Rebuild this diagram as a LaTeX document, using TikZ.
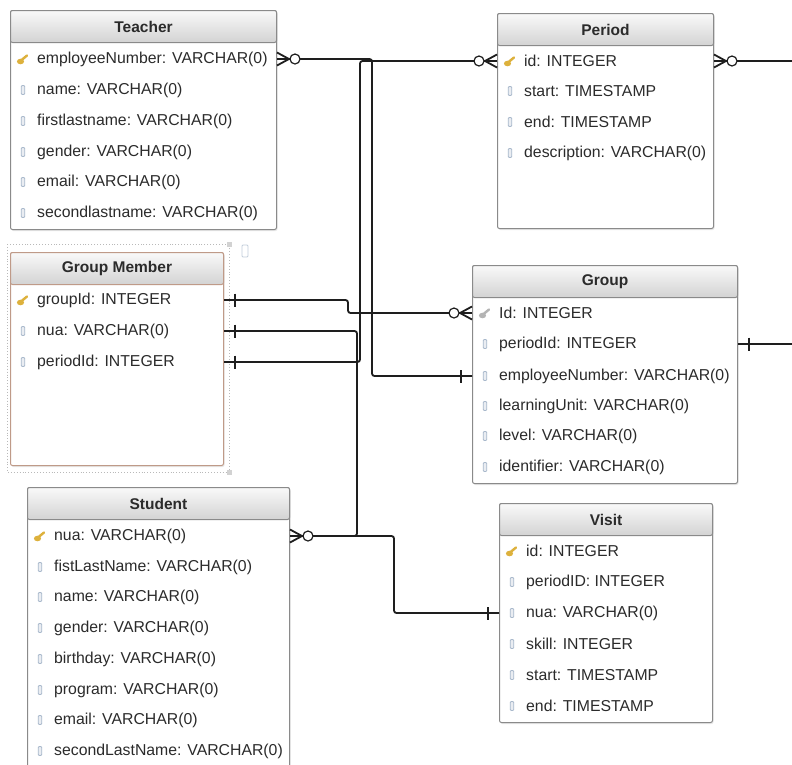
\documentclass[tikz,border=0pt]{standalone}
\usepackage{fontspec}
\setmainfont{Liberation Sans}
\usetikzlibrary{shadows}
\definecolor{txt}{HTML}{2B2B2B}
\definecolor{bord}{HTML}{8A8A8A}
\definecolor{hdtop}{HTML}{F9F9F9}
\definecolor{hdbot}{HTML}{D3D3D3}
\definecolor{selb}{HTML}{BF9A88}
\definecolor{keyg}{HTML}{DDB13C}
\definecolor{gkeyg}{HTML}{B4B4B4}
\definecolor{colic}{HTML}{A9B9CC}
\definecolor{connc}{HTML}{1E1E1E}
\tikzset{
  tbox/.style={draw=bord, line width=1pt, fill=white, rounded corners=2pt, anchor=north west, inner sep=0pt,
    drop shadow={opacity=0.18, shadow xshift=1pt, shadow yshift=-1.5pt}},
  thead/.style={draw=bord, line width=1pt, top color=hdtop, bottom color=hdbot, rounded corners=2pt,
    anchor=north west, inner sep=0pt, minimum height=32pt, font=\fontsize{15.5}{18}\selectfont\bfseries, text=txt},
  fld/.style={anchor=west, inner sep=0pt, font=\fontsize{15.8}{18}\selectfont, text=txt},
  conn/.style={draw=connc, line width=1.8pt},
  route/.style={conn, rounded corners=2.5pt},
  crowO/.pic={\draw[conn] (0pt,6.5pt) -- (12pt,0pt) -- (0pt,-6.5pt); \draw[conn] (0pt,0pt) -- (13pt,0pt);
    \draw[draw=connc, line width=1.2pt, fill=white] (18pt,0pt) circle (5pt);},
  onebar/.pic={\draw[conn] (11pt,6.5pt) -- (11pt,-6.5pt);},
  keyic/.pic={\fill[keyg] (-2.5pt,-2.5pt) ellipse (3.6pt and 2.8pt); \draw[keyg, line width=2.4pt, line cap=round] (-2pt,-1.5pt) -- (4pt,3.5pt);},
  gkeyic/.pic={\fill[gkeyg] (-2.5pt,-2.5pt) ellipse (3.6pt and 2.8pt); \draw[gkeyg, line width=2.4pt, line cap=round] (-2pt,-1.5pt) -- (4pt,3.5pt);},
  colicon/.pic={\draw[colic, fill=colic!25, line width=0.8pt, rounded corners=1pt] (-1.8pt,-4.5pt) rectangle (1.8pt,4.5pt);},
}
% name, x, y, w, h, title, border colour
\newcommand\ertab[7]{%
  \node[tbox, draw=#7, minimum width=#4pt, minimum height=#5pt] (#1) at (#2,-#3) {};
  \node[thead, draw=#7, minimum width=#4pt] (#1h) at (#2,-#3) {#6};
}
% name, table x, y, icon, text
\newcommand\fieldrow[5]{%
  \pic at (#2+13,-#3) {#4};
  \node[fld] (#1) at (#2+27,-#3) {#5};
}
\begin{document}
\begin{tikzpicture}[x=1pt, y=1pt]
\useasboundingbox[fill=white] (0,0) rectangle (792,-764);

% selection frame round Group Member
\draw[gray!55, dotted, line width=0.9pt] (7,-244) rectangle (229,-472);
\fill[gray!35] (226.5,-241.5) rectangle (231.5,-246.5);
\fill[gray!35] (226.5,-469.5) rectangle (231.5,-474.5);
\draw[colic!70, line width=0.8pt, rounded corners=1pt] (242,-245) rectangle (248,-257);

% Teacher
\ertab{teacher}{10}{10}{266}{219}{Teacher}{bord}
\fieldrow{tEmp}{10}{59}{keyic}{employeeNumber: VARCHAR(0)}
\fieldrow{tName}{10}{90}{colicon}{name: VARCHAR(0)}
\fieldrow{tFirst}{10}{121}{colicon}{firstlastname: VARCHAR(0)}
\fieldrow{tGender}{10}{152}{colicon}{gender: VARCHAR(0)}
\fieldrow{tEmail}{10}{182}{colicon}{email: VARCHAR(0)}
\fieldrow{tSecond}{10}{213}{colicon}{secondlastname: VARCHAR(0)}

% Period
\ertab{period}{497}{13}{216}{215}{Period}{bord}
\fieldrow{pId}{497}{61}{keyic}{id: INTEGER}
\fieldrow{pStart}{497}{91}{colicon}{start: TIMESTAMP}
\fieldrow{pEnd}{497}{122}{colicon}{end: TIMESTAMP}
\fieldrow{pDesc}{497}{153}{colicon}{description: VARCHAR(0)}

% Group Member
\ertab{gm}{10}{252}{213}{213}{Group Member}{selb}
\fieldrow{gmGid}{10}{300}{keyic}{groupId: INTEGER}
\fieldrow{gmNua}{10}{331}{colicon}{nua: VARCHAR(0)}
\fieldrow{gmPer}{10}{362}{colicon}{periodId: INTEGER}

% Group
\ertab{group}{472}{265}{265}{218}{Group}{bord}
\fieldrow{gId}{472}{313}{gkeyic}{Id: INTEGER}
\fieldrow{gPer}{472}{344}{colicon}{periodId: INTEGER}
\fieldrow{gEmp}{472}{376}{colicon}{employeeNumber: VARCHAR(0)}
\fieldrow{gUnit}{472}{406}{colicon}{learningUnit: VARCHAR(0)}
\fieldrow{gLevel}{472}{436}{colicon}{level: VARCHAR(0)}
\fieldrow{gIdent}{472}{467}{colicon}{identifier: VARCHAR(0)}

% Student
\ertab{student}{27}{487}{262}{300}{Student}{bord}
\fieldrow{sNua}{27}{536}{keyic}{nua: VARCHAR(0)}
\fieldrow{sFist}{27}{567}{colicon}{fistLastName: VARCHAR(0)}
\fieldrow{sName}{27}{597}{colicon}{name: VARCHAR(0)}
\fieldrow{sGender}{27}{628}{colicon}{gender: VARCHAR(0)}
\fieldrow{sBirth}{27}{659}{colicon}{birthday: VARCHAR(0)}
\fieldrow{sProg}{27}{690}{colicon}{program: VARCHAR(0)}
\fieldrow{sEmail}{27}{720}{colicon}{email: VARCHAR(0)}
\fieldrow{sSecond}{27}{751}{colicon}{secondLastName: VARCHAR(0)}

% Visit
\ertab{visit}{499}{503}{213}{219}{Visit}{bord}
\fieldrow{vId}{499}{551}{keyic}{id: INTEGER}
\fieldrow{vPer}{499}{582}{colicon}{periodID: INTEGER}
\fieldrow{vNua}{499}{613}{colicon}{nua: VARCHAR(0)}
\fieldrow{vSkill}{499}{644}{colicon}{skill: INTEGER}
\fieldrow{vStart}{499}{675}{colicon}{start: TIMESTAMP}
\fieldrow{vEnd}{499}{706}{colicon}{end: TIMESTAMP}

% connectors
% Teacher.employeeNumber -> Group.employeeNumber
\draw[route] ([xshift=23pt]teacher.east |- tEmp) -| ([xshift=-100pt]group.west |- gEmp) -- (group.west |- gEmp);
\pic at (teacher.east |- tEmp) {crowO};
\pic[rotate=180] at (group.west |- gEmp) {onebar};

% Period.id -> Group Member.periodId
\draw[route] ([xshift=-23pt]period.west |- pId) -| ([xshift=136pt]gm.east |- gmPer) -- (gm.east |- gmPer);
\pic[rotate=180] at (period.west |- pId) {crowO};
\pic at (gm.east |- gmPer) {onebar};

% Group Member.groupId -> Group.Id
\draw[route] (gm.east |- gmGid) -- ++(124,0) |- ([xshift=-23pt]group.west |- gId);
\pic at (gm.east |- gmGid) {onebar};
\pic[rotate=180] at (group.west |- gId) {crowO};

% Student.nua -> Group Member.nua
\draw[route] ([xshift=23pt]student.east |- sNua) -| ([xshift=133pt]gm.east |- gmNua) -- (gm.east |- gmNua);
\pic at (gm.east |- gmNua) {onebar};

% Student.nua -> Visit.nua
\draw[route] ([xshift=23pt]student.east |- sNua) -| ([xshift=-105pt]visit.west |- vNua) -- (visit.west |- vNua);
\pic at (student.east |- sNua) {crowO};
\pic[rotate=180] at (visit.west |- vNua) {onebar};

% lines leaving the picture
\coordinate (pout) at (792,-61);
\coordinate (gout) at (792,-344);
\draw[conn] ([xshift=23pt]period.east |- pId) -- (pout);
\pic at (period.east |- pId) {crowO};
\draw[conn] (group.east |- gPer) -- (gout);
\pic at (group.east |- gPer) {onebar};
\end{tikzpicture}
\end{document}
